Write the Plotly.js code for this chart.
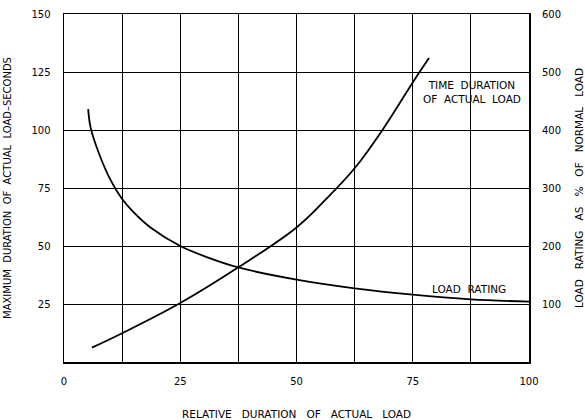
<!DOCTYPE html>
<html>
<head>
<meta charset="utf-8">
<script src="https://cdn.plot.ly/plotly-3.0.1.min.js"></script>
<style>html,body{margin:0;padding:0;background:#fff;}#chart{width:585px;height:420px;}</style>
</head>
<body>
<div id="chart"></div>
<script>
// Relative duration of actual load (%)
var ratingX = [5.2, 5.7, 7.5, 10, 12.5, 15, 18.75, 25, 31, 37.5, 50, 62.5, 75, 87.5, 100];
// Load rating as % of normal load (right axis)
var ratingY = [436, 405, 360, 314, 281, 258, 231, 200, 180, 163, 142, 127, 116, 108, 104];

var timeX = [6, 12.5, 25, 37.5, 50, 56.25, 62.5, 68.3, 75, 78.5];
// Maximum duration of actual load, seconds (left axis)
var timeY = [6.2, 12.4, 25.4, 40.8, 58, 70, 83.5, 99.5, 120.5, 131];

var xTickVals = [0, 12.5, 25, 37.5, 50, 62.5, 75, 87.5, 100];
var xTickText = ['0', '', '25', '', '50', '', '75', '', '100'];
var yTickVals = [0, 25, 50, 75, 100, 125, 150];
var yTickText = ['', '25', '50', '75', '100', '125', '150'];
var y2TickVals = [0, 100, 200, 300, 400, 500, 600];
var y2TickText = ['', '100', '200', '300', '400', '500', '600'];

var F = 'DejaVu Sans, sans-serif';
var S = '\u00A0\u00A0';
var S3 = '\u00A0\u00A0\u00A0';

var traces = [
  {x: timeX, y: timeY, mode: 'lines', type: 'scatter', name: 'Time duration of actual load',
   line: {color: '#000', width: 1.8, shape: 'spline', smoothing: 1.1}, yaxis: 'y'},
  {x: ratingX, y: ratingY, mode: 'lines', type: 'scatter', name: 'Load rating',
   line: {color: '#000', width: 1.8, shape: 'spline', smoothing: 1}, yaxis: 'y2'}
];

var layout = {
  width: 585, height: 420,
  margin: {l: 64, r: 56, t: 14, b: 58},
  paper_bgcolor: '#fff', plot_bgcolor: '#fff',
  showlegend: false,
  font: {family: F, size: 10, color: '#000'},
  xaxis: {
    range: [0, 100], tickvals: xTickVals, ticktext: xTickText,
    showgrid: true, gridcolor: '#000', gridwidth: 1,
    zeroline: false, showline: true, linecolor: '#000', linewidth: 1.5, mirror: true,
    ticks: 'outside', ticklen: 9, tickcolor: 'rgba(0,0,0,0)',
    tickfont: {family: F, size: 10, color: '#000'},
    title: {text: 'RELATIVE' + S3 + 'DURATION' + S3 + 'OF' + S3 + 'ACTUAL' + S3 + 'LOAD', font: {family: F, size: 10.5, color: '#000'}, standoff: 25}
  },
  yaxis: {
    range: [0, 150], tickvals: yTickVals, ticktext: yTickText,
    showgrid: true, gridcolor: '#000', gridwidth: 1,
    zeroline: false, showline: true, linecolor: '#000', linewidth: 1.5, mirror: true,
    ticks: 'outside', ticklen: 10, tickcolor: 'rgba(0,0,0,0)',
    tickfont: {family: F, size: 10, color: '#000'},
    title: {text: 'MAXIMUM' + S + 'DURATION' + S + 'OF' + S + 'ACTUAL' + S + 'LOAD\u2013SECONDS', font: {family: F, size: 10, color: '#000'}, standoff: 18}
  },
  yaxis2: {
    range: [0, 600], tickvals: y2TickVals, ticktext: y2TickText,
    overlaying: 'y', side: 'right', showgrid: false, zeroline: false,
    showline: false,
    ticks: 'outside', ticklen: 10, tickcolor: 'rgba(0,0,0,0)',
    tickfont: {family: F, size: 10, color: '#000'},
    title: {text: 'LOAD' + S3 + 'RATING' + S3 + 'AS' + S3 + '%' + S3 + 'OF' + S3 + 'NORMAL' + S3 + 'LOAD', font: {family: F, size: 10.5, color: '#000'}, standoff: 18}
  },
  annotations: [
    {x: 87.7, y: 116.2, xref: 'x', yref: 'y', text: 'TIME' + S + 'DURATION<br>OF' + S + 'ACTUAL' + S + 'LOAD',
     showarrow: false, font: {family: F, size: 10.5, color: '#000'}, align: 'center'},
    {x: 87.2, y: 31.5, xref: 'x', yref: 'y', text: 'LOAD' + S + 'RATING',
     showarrow: false, font: {family: F, size: 10.5, color: '#000'}, align: 'center'}
  ]
};

Plotly.newPlot('chart', traces, layout, {displayModeBar: false, staticPlot: true});
</script>
</body>
</html>
